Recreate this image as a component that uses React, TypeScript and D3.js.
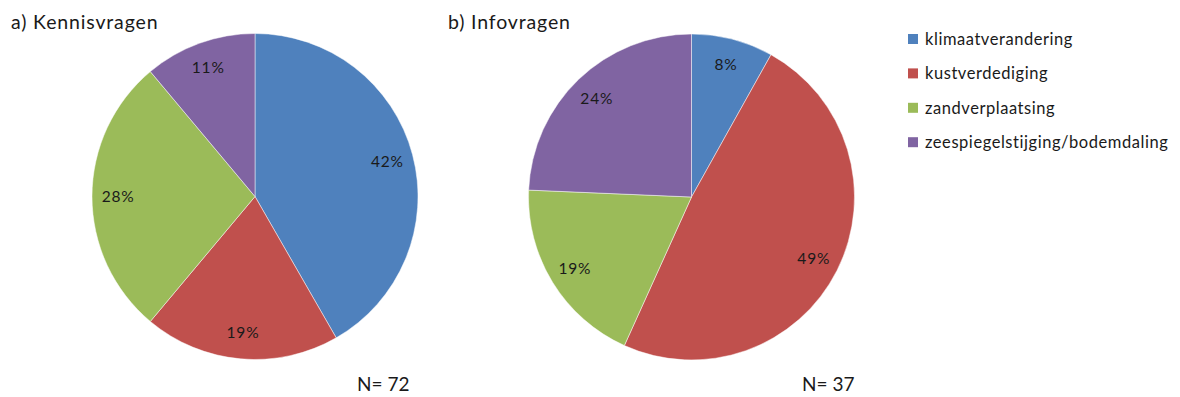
import React from "react";
import * as d3 from "d3";

const categories = ["klimaatverandering", "kustverdediging", "zandverplaatsing", "zeespiegelstijging/bodemdaling"];
const colors = ["#4F81BD", "#C0504D", "#9BBB59", "#8064A2"];
const valuesA = [41.7, 19.4, 27.8, 11.1];
const valuesB = [8.1, 48.6, 18.9, 24.3];
const titles = ["a) Kennisvragen", "b) Infovragen"];
const nLabels = ["N= 72", "N= 37"];

const W = 1180;
const H = 397;
const FONT = "Lato, 'Open Sans', sans-serif";

type PieProps = { values: number[]; cx: number; cy: number; r: number };

function Pie({ values, cx, cy, r }: PieProps) {
  const pie = d3.pie<number>().sort(null).value((d) => d)(values);
  const arc = d3.arc<d3.PieArcDatum<number>>().innerRadius(0).outerRadius(r);
  const labelArc = d3.arc<d3.PieArcDatum<number>>().innerRadius(r * 0.84).outerRadius(r * 0.84);
  return (
    <g transform={`translate(${cx},${cy})`}>
      {pie.map((d, i) => (
        <path key={i} d={arc(d) || ""} fill={colors[i]} stroke="#ffffff" strokeOpacity={0.6} strokeWidth={0.8} />
      ))}
      {pie.map((d, i) => {
        const [x, y] = labelArc.centroid(d);
        return (
          <text key={"l" + i} x={x} y={y} dy="0.35em" textAnchor="middle" fontSize={15.5} letterSpacing={0.8} fill="#1a1a1a" fontFamily={FONT}>
            {Math.round(d.data)}%
          </text>
        );
      })}
    </g>
  );
}

export default function App() {
  const r = 163;
  return (
    <svg width={W} height={H} style={{ position: "absolute", left: 0, top: 0, background: "#fff" }}>
      <rect width={W} height={H} fill="#fff" />
      <text x={11} y={29} fontSize={19.5} letterSpacing={0.85} fontFamily={FONT} fill="#1a1a1a">{titles[0]}</text>
      <text x={448} y={29} fontSize={19.5} letterSpacing={0.85} fontFamily={FONT} fill="#1a1a1a">{titles[1]}</text>
      <Pie values={valuesA} cx={255} cy={196.5} r={r} />
      <Pie values={valuesB} cx={691.5} cy={197} r={r} />
      <text x={357} y={391} fontSize={19} fontFamily={FONT} fill="#1a1a1a">{nLabels[0]}</text>
      <text x={802} y={391} fontSize={19} fontFamily={FONT} fill="#1a1a1a">{nLabels[1]}</text>
      {categories.map((c, i) => {
        const y = 45 + i * 34.4;
        return (
          <g key={c}>
            <rect x={908} y={y - 11} width={10} height={10} fill={colors[i]} />
            <text x={925} y={y} fontSize={16.5} letterSpacing={0.55} fontFamily={FONT} fill="#1a1a1a">{c}</text>
          </g>
        );
      })}
    </svg>
  );
}
